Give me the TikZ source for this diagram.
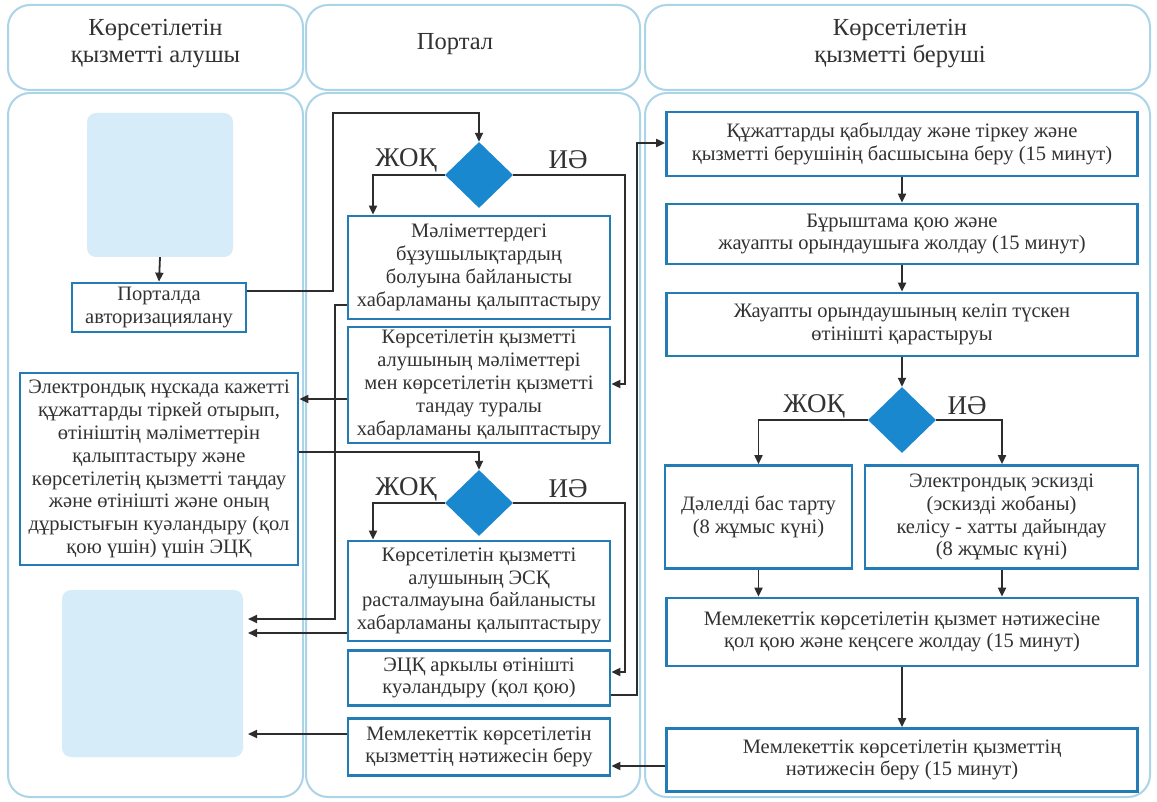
\documentclass[tikz,border=0pt]{standalone}
\usepackage{fontspec}
\setmainfont{Liberation Serif}
\usetikzlibrary{arrows.meta,shapes.geometric,calc}
\definecolor{boxc}{RGB}{36,124,182}
\definecolor{diamc}{RGB}{26,136,206}
\definecolor{lightc}{RGB}{214,236,249}
\definecolor{lanec}{RGB}{172,212,232}
\definecolor{txtc}{RGB}{50,50,50}
\definecolor{linec}{RGB}{45,45,45}
\tikzset{
  lane/.style={draw=lanec, line width=2pt, rounded corners=22pt},
  pbox/.style={draw=boxc, line width=2.7pt, fill=white, align=center, text=txtc, inner sep=0pt,
    font=\fontsize{20.5}{22.8}\selectfont},
  lightbox/.style={fill=lightc, rounded corners=9pt, inner sep=0pt},
  dec/.style={diamond, fill=diamc, inner sep=0pt, minimum width=68pt, minimum height=66pt},
  yn/.style={text=txtc, font=\fontsize{27}{30}\selectfont},
  hdr/.style={text=txtc, align=center, font=\fontsize{24.5}{27}\selectfont},
  arr/.style={draw=linec, line width=1.8pt, -{Triangle[length=9pt,width=8pt]}},
  ln/.style={draw=linec, line width=1.8pt}
}
\begin{document}
\begin{tikzpicture}[x=1pt,y=-1pt]
\useasboundingbox (0,0) rectangle (1157,802);
\fill[white] (0,0) rectangle (1157,802);
% lanes
\draw[lane] (8,5) rectangle (303,90);
\draw[lane] (306,5) rectangle (640,90);
\draw[lane] (645,5) rectangle (1150,90);
\draw[lane] (8,93) rectangle (303,797);
\draw[lane] (306,93) rectangle (640,797);
\draw[lane] (645,93) rectangle (1150,797);
\node[hdr] (h1) at (155.5,44) {Көрсетілетін\\қызметті алушы};
\node[hdr] (h2) at (455,44) {Портал};
\node[hdr] (h3) at (900,44) {Көрсетілетін\\қызметті беруші};
% left lane
\node[lightbox, minimum width=146pt, minimum height=144pt] (lb1) at (160,185) {};
\node[pbox, minimum width=174pt, minimum height=49pt] (auth) at (159,307.5) {Порталда\\авторизациялану};
\node[pbox, minimum width=278pt, minimum height=192pt] (elec) at (159,469) {Электрондық нұскада кажетті\\құжаттарды тіркей отырып,\\өтініштің мәліметтерін\\қалыптастыру және\\көрсетілетің қызметті таңдау\\және өтінішті және оның\\дұрыстығын куәландыру (қол\\қою үшін) үшін ЭЦҚ};
\node[lightbox, minimum width=181pt, minimum height=167pt] (lb2) at (152.5,673.5) {};
% portal lane
\node[dec] (d1) at (479,175) {};
\node[yn] (n1) at (406,160) {ЖОҚ};
\node[yn] (y1) at (568,160) {ИӘ};
\node[pbox, minimum width=262pt, minimum height=103pt] (p1) at (479,267.5) {Мәліметтердегі\\бұзушылықтардың\\болуына байланысты\\хабарламаны қалыптастыру};
\node[pbox, minimum width=262pt, minimum height=116pt] (p2) at (479,385) {Көрсетілетін қызметті\\алушының мәліметтері\\мен көрсетілетін қызметті\\тандау туралы\\хабарламаны қалыптастыру};
\node[dec] (d2) at (479,503) {};
\node[yn] (n2) at (406,489) {ЖОҚ};
\node[yn] (y2) at (568,489) {ИӘ};
\node[pbox, minimum width=262pt, minimum height=100pt] (p3) at (479,591) {Көрсетілетін қызметті\\алушының ЭСҚ\\расталмауына байланысты\\хабарламаны қалыптастыру};
\node[pbox, minimum width=262pt, minimum height=55pt] (p4) at (479,678) {ЭЦҚ аркылы өтінішті\\куәландыру (қол қою)};
\node[pbox, minimum width=262pt, minimum height=57pt] (p5) at (479,747) {Мемлекеттік көрсетілетін\\қызметтің нәтижесін беру};
% right lane
\node[pbox, minimum width=471pt, minimum height=64pt] (r1) at (902,144) {Құжаттарды қабылдау және тіркеу және\\қызметті берушінің басшысына беру (15 минут)};
\node[pbox, minimum width=471pt, minimum height=60pt] (r2) at (902,234) {Бұрыштама қою және\\жауапты орындаушыға жолдау (15 минут)};
\node[pbox, minimum width=471pt, minimum height=63pt] (r3) at (902,324.5) {Жауапты орындаушының келіп түскен\\өтінішті қарастыруы};
\node[dec] (d3) at (902,420) {};
\node[yn] (n3) at (814,406) {ЖОҚ};
\node[yn] (y3) at (967,406) {ИӘ};
\node[pbox, minimum width=187pt, minimum height=103pt] (r4) at (758.5,517) {Дәлелді бас тарту\\(8 жұмыс күні)};
\node[pbox, minimum width=273pt, minimum height=103pt] (r5) at (1001.5,517) {Электрондық эскизді\\(эскизді жобаны)\\келісу - хатты дайындау\\(8 жұмыс күні)};
\node[pbox, minimum width=471pt, minimum height=68pt] (r6) at (902,632) {Мемлекеттік көрсетілетін қызмет нәтижесіне\\қол қою және кеңсеге жолдау (15 минут)};
\node[pbox, minimum width=471pt, minimum height=63pt] (r7) at (902,760) {Мемлекеттік көрсетілетін қызметтің\\нәтижесін беру (15 минут)};
% coordinates
\coordinate (t1) at (248,619);
\coordinate (t2) at (248,633);
\coordinate (t3) at (248,734);
% connectors left/portal
\draw[arr] (lb1.south) -- (auth.north);
\draw[arr] (auth.east |- 0,291) -- (333,291) -- (333,113) -| (d1.north);
\draw[arr] (d1.west) -| (373,0 |- p1.north);
\draw[arr] (d1.east) -| (625,384) -- (p2.east |- 0,384);
\draw[arr] (p1.west |- 0,305) -| (335,619) -- (t1);
\draw[arr] (p2.west |- 0,399) -- (elec.east |- 0,399);
\draw[arr] (elec.east |- 0,452) -| (d2.north);
\draw[arr] (d2.west) -| (373,0 |- p3.north);
\draw[arr] (d2.east) -| (625,672) -- (p4.east |- 0,672);
\draw[arr] (p3.west |- 0,633) -- (t2);
\draw[arr] (p4.east |- 0,695) -| (637,143) -- (r1.west |- 0,143);
\draw[arr] (r7.west |- 0,766) -- (p5.east |- 0,766);
\draw[arr] (p5.west |- 0,734) -- (t3);
% right lane
\draw[arr] (r1) -- (r2);
\draw[arr] (r2) -- (r3);
\draw[arr] (r3) -- (d3);
\draw[arr] (d3.west) -| (r4.north);
\draw[arr] (d3.east) -| (1002,0 |- r5.north);
\draw[arr] (r4.south) -- (r4.south |- r6.north);
\draw[arr] (1002,0 |- r5.south) -- (1002,0 |- r6.north);
\draw[arr] (r6) -- (r7);
\end{tikzpicture}
\end{document}
